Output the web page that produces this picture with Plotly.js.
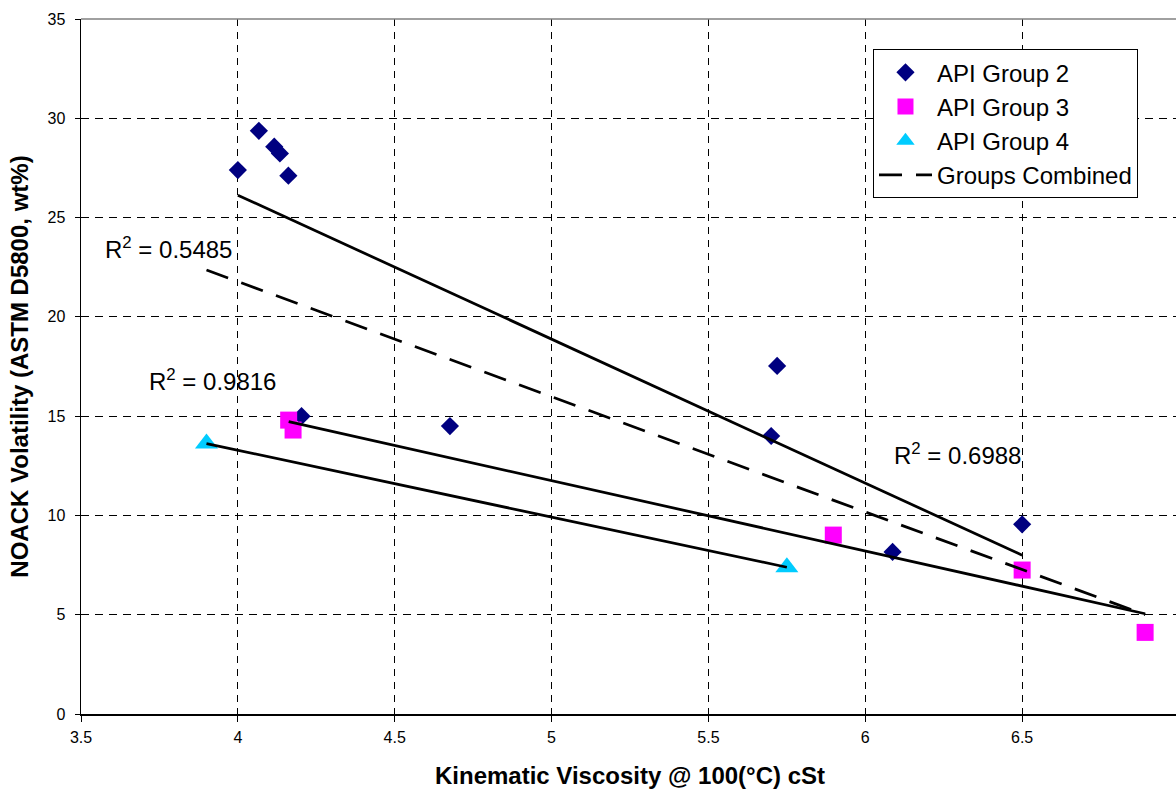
<!DOCTYPE html>
<html>
<head>
<meta charset="utf-8">
<script src="https://cdn.plot.ly/plotly-3.0.1.min.js"></script>
<style>
html,body{margin:0;padding:0;overflow:hidden;background:#fff;}
#chart{width:1179px;height:791px;}
</style>
</head>
<body>
<div id="chart"></div>
<script>
// Data
const group2X = [4.00, 4.067, 4.116, 4.134, 4.161, 4.203, 4.676, 5.719, 5.700, 6.087, 6.50];
const group2Y = [27.39, 29.37, 28.57, 28.23, 27.11, 15.0, 14.5, 17.53, 14.0, 8.16, 9.55];
const group3X = [4.162, 4.176, 5.898, 6.50, 6.892];
const group3Y = [14.8, 14.3, 9.01, 7.25, 4.11];
const group4X = [3.90, 5.75];
const group4Y = [13.62, 7.39];
// Trendline end points
const trend2X = [4.00, 6.50];
const trend2Y = [26.13, 8.0];
const trend3X = [4.162, 6.892];
const trend3Y = [14.72, 5.05];
const trend4X = [3.90, 5.75];
const trend4Y = [13.62, 7.39];
const combinedX = [3.90, 6.892];
const combinedY = [22.36, 5.0];
const seriesNames = ['API Group 2', 'API Group 3', 'API Group 4', 'Groups Combined'];
const r2Labels = ['R<sup>2</sup> = 0.5485', 'R<sup>2</sup> = 0.9816', 'R<sup>2</sup> = 0.6988'];
const r2X = [3.569, 3.709, 6.084];
const r2Y = [23.45, 16.8, 13.08];
const xTicks = [3.5, 4, 4.5, 5, 5.5, 6, 6.5, 7];
const yTicks = [0, 5, 10, 15, 20, 25, 30, 35];

const FONT = '"Liberation Sans", Arial, sans-serif';

const traces = [
  {x: group2X, y: group2Y, name: seriesNames[0], type: 'scatter', mode: 'markers',
   marker: {symbol: 'diamond', size: 14, color: '#000080'}},
  {x: group3X, y: group3Y, name: seriesNames[1], type: 'scatter', mode: 'markers',
   marker: {symbol: 'square', size: 17, color: '#FF00FF'}},
  {x: group4X, y: group4Y, name: seriesNames[2], type: 'scatter', mode: 'markers',
   marker: {symbol: 'triangle-up', size: 20, color: '#00CCFF'}},
  {x: trend2X, y: trend2Y, type: 'scatter', mode: 'lines', showlegend: false,
   line: {color: '#000', width: 2.75}},
  {x: trend3X, y: trend3Y, type: 'scatter', mode: 'lines', showlegend: false,
   line: {color: '#000', width: 2.75}},
  {x: trend4X, y: trend4Y, type: 'scatter', mode: 'lines', showlegend: false,
   line: {color: '#000', width: 2.75}},
  {x: combinedX, y: combinedY, name: seriesNames[3], type: 'scatter', mode: 'lines',
   line: {color: '#000', width: 2.75, dash: '23px,14px'}}
];

const annotations = r2Labels.map((t, i) => ({
  x: r2X[i], y: r2Y[i], xref: 'x', yref: 'y', text: t, showarrow: false,
  xanchor: 'left', yanchor: 'middle', font: {family: FONT, size: 24, color: '#000'}
}));

const layout = {
  width: 1179, height: 791,
  margin: {l: 81, r: 0, t: 19, b: 77, pad: 0},
  paper_bgcolor: '#fff', plot_bgcolor: '#fff',
  font: {family: FONT, color: '#000'},
  showlegend: true,
  legend: {
    x: 0.7213, y: 0.9565, xanchor: 'left', yanchor: 'top',
    bgcolor: '#fff', bordercolor: '#000', borderwidth: 1,
    font: {family: FONT, size: 24, color: '#000'},
    itemwidth: 53, tracegroupgap: 0
  },
  xaxis: {
    range: [3.5, 7], tickvals: xTicks, ticktext: xTicks.map(String),
    showgrid: true, gridcolor: '#000', gridwidth: 1, griddash: '7px,6px',
    showline: true, linecolor: '#000', linewidth: 1.5,
    ticks: 'outside', ticklen: 6, tickwidth: 1, tickcolor: '#000',
    tickfont: {family: FONT, size: 16, color: '#000'},
    ticklabelstandoff: 2,
    zeroline: false,
    title: {text: 'Kinematic Viscosity @ 100(°C) cSt', standoff: 22,
            font: {family: FONT, size: 24, color: '#000', weight: 'bold'}}
  },
  yaxis: {
    range: [0, 35], tickvals: yTicks, ticktext: yTicks.map(String),
    showgrid: true, gridcolor: '#000', gridwidth: 1, griddash: '8px,6px',
    showline: true, linecolor: '#000', linewidth: 1.5,
    ticks: 'outside', ticklen: 5, tickwidth: 1, tickcolor: '#000',
    tickfont: {family: FONT, size: 16, color: '#000'},
    ticklabelstandoff: 6,
    zeroline: false,
    title: {text: 'NOACK Volatility (ASTM D5800, wt%)', standoff: 12,
            font: {family: FONT, size: 24, color: '#000', weight: 'bold'}}
  },
  shapes: [
    {type: 'line', xref: 'paper', yref: 'paper', x0: 0, x1: 1, y0: 1, y1: 1,
     line: {color: '#808080', width: 1.5}}
  ],
  annotations: annotations
};

Plotly.newPlot('chart', traces, layout, {displayModeBar: false, staticPlot: true});
</script>
</body>
</html>
